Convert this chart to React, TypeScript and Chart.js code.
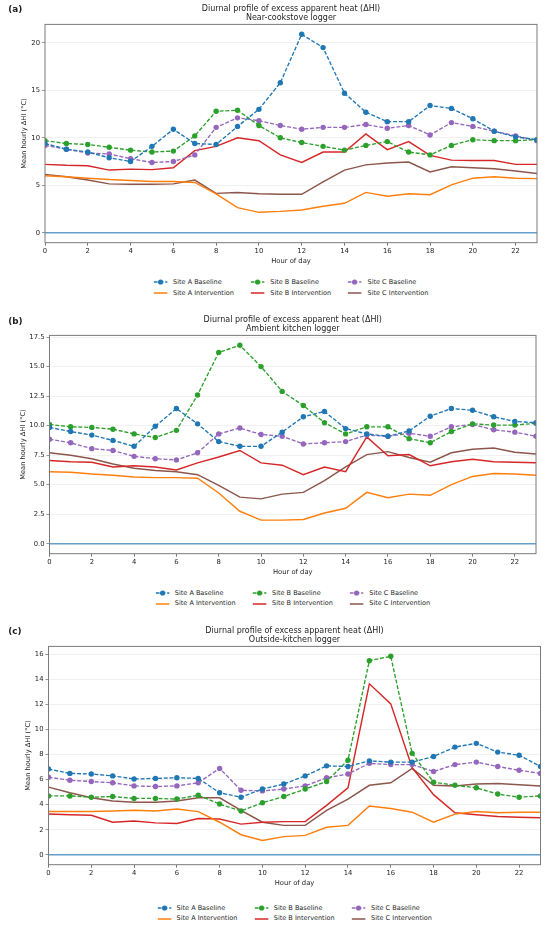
import { useEffect, useRef } from 'react'
import { Chart, registerables } from 'chart.js'
import type { ChartConfiguration, Plugin } from 'chart.js'

Chart.register(...registerables)

const HOURS = [0, 1, 2, 3, 4, 5, 6, 7, 8, 9, 10, 11, 12, 13, 14, 15, 16, 17, 18, 19, 20, 21, 22, 23]

const SERIES_LABELS = [
  'Site A Baseline',
  'Site B Baseline',
  'Site C Baseline',
  'Site A Intervention',
  'Site B Intervention',
  'Site C Intervention'
]

const TITLE = 'Diurnal profile of excess apparent heat (ΔHI)'
const Y_TITLE = 'Mean hourly ΔHI (°C)'
const X_TITLE = 'Hour of day'
const ZERO_LEVEL = 0

// (a) near-cookstove logger
const cookstoveABase = [9.4, 8.8, 8.5, 7.9, 7.5, 9.1, 10.9, 9.4, 9.3, 11.2, 13.0, 15.8, 20.9, 19.5, 14.7, 12.7, 11.7, 11.7, 13.4, 13.1, 12.0, 10.7, 10.1, 9.8]
const cookstoveBBase = [9.7, 9.4, 9.3, 9.0, 8.7, 8.5, 8.6, 10.2, 12.8, 12.9, 11.3, 10.0, 9.5, 9.1, 8.7, 9.2, 9.6, 8.5, 8.2, 9.2, 9.8, 9.7, 9.7, 9.8]
const cookstoveCBase = [9.2, 8.8, 8.4, 8.3, 7.8, 7.4, 7.5, 8.2, 11.1, 12.1, 11.8, 11.3, 10.9, 11.1, 11.1, 11.4, 11.0, 11.3, 10.3, 11.6, 11.2, 10.7, 10.2, 9.7]
const cookstoveAInt = [6.0, 5.9, 5.75, 5.6, 5.5, 5.4, 5.4, 5.3, 4.1, 2.65, 2.15, 2.25, 2.4, 2.8, 3.1, 4.25, 3.85, 4.1, 4.0, 5.05, 5.75, 5.9, 5.75, 5.7]
const cookstoveBInt = [7.2, 7.1, 7.05, 6.6, 6.7, 6.65, 6.85, 8.65, 9.1, 10.0, 9.7, 8.2, 7.4, 8.5, 8.5, 10.4, 8.75, 9.6, 8.15, 7.65, 7.6, 7.6, 7.2, 7.2]
const cookstoveCInt = [6.15, 5.9, 5.55, 5.15, 5.1, 5.1, 5.15, 5.55, 4.15, 4.25, 4.1, 4.05, 4.05, 5.35, 6.6, 7.15, 7.35, 7.45, 6.4, 6.95, 6.85, 6.75, 6.5, 6.25]

// (b) ambient kitchen logger
const ambientABase = [9.85, 9.5, 9.2, 8.75, 8.25, 9.95, 11.45, 10.15, 8.65, 8.25, 8.25, 9.45, 10.75, 11.2, 9.75, 9.3, 9.1, 9.55, 10.8, 11.45, 11.3, 10.75, 10.35, 10.25]
const ambientBBase = [10.1, 9.9, 9.85, 9.7, 9.3, 9.0, 9.6, 12.6, 16.2, 16.8, 15.0, 12.9, 11.7, 10.25, 9.3, 9.9, 9.9, 8.9, 8.55, 9.5, 10.15, 10.05, 10.05, 10.2]
const ambientCBase = [8.85, 8.55, 8.05, 7.9, 7.4, 7.2, 7.1, 7.7, 9.3, 9.8, 9.25, 9.1, 8.45, 8.55, 8.65, 9.2, 9.1, 9.35, 9.1, 9.9, 10.1, 9.65, 9.45, 9.1]
const ambientAInt = [6.1, 6.05, 5.9, 5.8, 5.65, 5.6, 5.6, 5.55, 4.3, 2.75, 2.0, 2.0, 2.05, 2.6, 3.0, 4.35, 3.9, 4.2, 4.1, 5.0, 5.7, 5.95, 5.9, 5.8]
const ambientBInt = [7.05, 6.95, 6.9, 6.5, 6.6, 6.5, 6.25, 6.85, 7.35, 7.9, 6.85, 6.65, 5.85, 6.5, 6.1, 9.05, 7.45, 7.55, 6.6, 6.95, 7.15, 6.95, 6.9, 6.85]
const ambientCInt = [7.7, 7.5, 7.2, 6.75, 6.4, 6.2, 6.1, 5.85, 4.95, 3.95, 3.8, 4.2, 4.35, 5.35, 6.5, 7.55, 7.8, 7.3, 6.9, 7.7, 8.0, 8.1, 7.75, 7.6]

// (c) outside-kitchen logger
const outsideABase = [6.85, 6.5, 6.45, 6.3, 6.05, 6.1, 6.15, 6.1, 4.95, 4.6, 5.25, 5.65, 6.3, 7.1, 7.05, 7.5, 7.4, 7.4, 7.85, 8.6, 8.9, 8.2, 7.95, 7.05]
const outsideBBase = [4.7, 4.7, 4.6, 4.65, 4.5, 4.5, 4.45, 4.75, 4.05, 3.5, 4.15, 4.65, 5.25, 5.85, 7.55, 15.5, 15.85, 8.1, 5.8, 5.55, 5.35, 4.85, 4.6, 4.7]
const outsideCBase = [6.2, 5.95, 5.85, 5.75, 5.5, 5.45, 5.5, 5.75, 6.9, 5.15, 5.1, 5.25, 5.5, 6.15, 6.45, 7.3, 7.2, 7.2, 6.65, 7.2, 7.4, 7.05, 6.75, 6.5]
const outsideAInt = [3.45, 3.45, 3.45, 3.5, 3.55, 3.5, 3.65, 3.45, 2.6, 1.6, 1.15, 1.45, 1.55, 2.2, 2.35, 3.9, 3.7, 3.4, 2.6, 3.25, 3.45, 3.35, 3.4, 3.4]
const outsideBInt = [3.25, 3.2, 3.15, 2.6, 2.7, 2.55, 2.5, 2.9, 2.85, 2.45, 2.6, 2.65, 2.65, 3.95, 5.35, 13.65, 12.05, 6.95, 4.8, 3.35, 3.2, 3.05, 3.0, 2.95]
const outsideCInt = [5.4, 4.95, 4.55, 4.3, 4.2, 4.2, 4.3, 4.55, 4.55, 3.55, 2.6, 2.35, 2.35, 3.55, 4.45, 5.55, 5.75, 6.9, 5.55, 5.5, 5.65, 5.7, 5.6, 5.5]

// matplotlib tab10, same order as SERIES_LABELS
const COLORS = ['#1f77b4', '#2ca02c', '#9467bd', '#ff7f0e', '#d62728', '#8c564b']
const ZERO_COLOR = '#62a0ca'
const FRAME_COLOR = '#7a7a7a'
const TEXT = '#1e1e1e'
const FONT = "'DejaVu Sans', sans-serif"
const DASH = [4, 1.8]

interface PanelSpec {
  tag: string
  subtitle: string
  series: number[][]
  yMin: number
  yMax: number
  yStep: number
  yDecimals: number
  top: number
  height: number
  plotLeft: number
  plotRight: number
  yTitlePad: number
  tagTop: number
  legendTop: number
}

const PANELS: PanelSpec[] = [
  {
    tag: '(a)', subtitle: 'Near-cookstove logger',
    series: [cookstoveABase, cookstoveBBase, cookstoveCBase, cookstoveAInt, cookstoveBInt, cookstoveCInt],
    yMin: -1.045, yMax: 21.945, yStep: 5, yDecimals: 0,
    top: 0, height: 310.5, plotLeft: 45, plotRight: 537, yTitlePad: 20.4, tagTop: 4.3, legendTop: 277
  },
  {
    tag: '(b)', subtitle: 'Ambient kitchen logger',
    series: [ambientABase, ambientBBase, ambientCBase, ambientAInt, ambientBInt, ambientCInt],
    yMin: -0.84, yMax: 17.64, yStep: 2.5, yDecimals: 1,
    top: 310.5, height: 311.5, plotLeft: 49.5, plotRight: 536, yTitlePad: 19.4, tagTop: 5.5, legendTop: 277
  },
  {
    tag: '(c)', subtitle: 'Outside-kitchen logger',
    series: [outsideABase, outsideBBase, outsideCBase, outsideAInt, outsideBInt, outsideCInt],
    yMin: -0.79, yMax: 16.64, yStep: 2, yDecimals: 0,
    top: 622, height: 305, plotLeft: 48.5, plotRight: 540.5, yTitlePad: 24.4, tagTop: 4, legendTop: 280.5
  }
]

// axes box on all four sides plus the zero reference line
const axesDecor: Plugin = {
  id: 'axesDecor',
  beforeDatasetsDraw(chart) {
    const { ctx, chartArea } = chart
    const y0 = chart.scales.y.getPixelForValue(ZERO_LEVEL)
    ctx.save()
    ctx.strokeStyle = ZERO_COLOR
    ctx.lineWidth = 1.4
    ctx.beginPath()
    ctx.moveTo(chartArea.left, y0)
    ctx.lineTo(chartArea.right, y0)
    ctx.stroke()
    ctx.restore()
  },
  afterDraw(chart) {
    const { ctx, chartArea } = chart
    ctx.save()
    ctx.strokeStyle = FRAME_COLOR
    ctx.lineWidth = 1
    ctx.strokeRect(chartArea.left, chartArea.top, chartArea.right - chartArea.left, chartArea.bottom - chartArea.top)
    ctx.restore()
  }
}

function LegendMark({ color, baseline }: { color: string; baseline: boolean }) {
  return (
    <svg width={14} height={8} style={{ display: 'block', flex: 'none' }}>
      <line x1={0} y1={4} x2={14} y2={4} stroke={color} strokeWidth={1.4} strokeDasharray={baseline ? '4 1.8' : undefined} />
      {baseline && <circle cx={7} cy={4} r={2.6} fill={color} />}
    </svg>
  )
}

function Panel({ spec }: { spec: PanelSpec }) {
  const canvasRef = useRef<HTMLCanvasElement>(null)
  const chartRef = useRef<Chart | null>(null)
  const canvasHeight = 266

  useEffect(() => {
    const canvas = canvasRef.current
    if (!canvas) return
    chartRef.current?.destroy()

    const datasets = spec.series.map((values, i) => {
      const baseline = i < 3
      return {
        label: SERIES_LABELS[i],
        data: HOURS.map((h, k) => ({ x: h, y: values[k] })),
        borderColor: COLORS[i],
        backgroundColor: COLORS[i],
        borderWidth: baseline ? 1.35 : 1.45,
        borderDash: baseline ? DASH : [],
        pointRadius: baseline ? 2.7 : 0,
        pointBorderWidth: 0,
        pointBackgroundColor: COLORS[i],
        tension: 0,
        fill: false
      }
    })

    const config: ChartConfiguration<'line'> = {
      type: 'line',
      data: { datasets },
      options: {
        responsive: true,
        maintainAspectRatio: false,
        animation: false,
        layout: { padding: { left: 0, right: 550 - spec.plotRight, top: 0, bottom: 0 } },
        plugins: {
          legend: { display: false },
          tooltip: { enabled: false },
          title: {
            display: true,
            text: [TITLE, spec.subtitle],
            fullSize: false,
            color: TEXT,
            font: { family: FONT, size: 8, weight: 'normal', lineHeight: 1.125 },
            padding: { top: 4.5, bottom: 1.9 }
          }
        },
        scales: {
          x: {
            type: 'linear',
            min: 0,
            max: 23,
            border: { display: false },
            grid: { drawOnChartArea: false, drawTicks: true, tickLength: 3, tickColor: FRAME_COLOR },
            ticks: { stepSize: 2, includeBounds: false, color: TEXT, padding: 1, maxRotation: 0, font: { family: FONT, size: 6.8, lineHeight: 1.2 } },
            title: { display: true, text: X_TITLE, color: TEXT, padding: { top: 1, bottom: 1 }, font: { family: FONT, size: 6.8, lineHeight: 1.2 } }
          },
          y: {
            min: spec.yMin,
            max: spec.yMax,
            border: { display: false },
            grid: { color: 'rgba(0,0,0,0.07)', lineWidth: 0.8, tickLength: 3, tickColor: FRAME_COLOR },
            ticks: {
              stepSize: spec.yStep,
              includeBounds: false,
              color: TEXT,
              padding: 2,
              font: { family: FONT, size: 6.8, lineHeight: 1.2 },
              callback: (v) => Number(v).toFixed(spec.yDecimals)
            },
            title: { display: true, text: Y_TITLE, color: TEXT, padding: { top: spec.yTitlePad, bottom: 0 }, font: { family: FONT, size: 6.7, lineHeight: 1.2 } },
            afterFit: (scale) => { scale.width = spec.plotLeft }
          }
        }
      },
      plugins: [axesDecor]
    }

    chartRef.current = new Chart(canvas, config)
    return () => {
      chartRef.current?.destroy()
      chartRef.current = null
    }
  }, [spec])

  const legendCenter = (spec.plotLeft + spec.plotRight) / 2
  const order = [0, 3, 1, 4, 2, 5]

  return (
    <div style={{ position: 'absolute', left: 0, top: spec.top, width: 550, height: spec.height }}>
      <div style={{ position: 'absolute', left: 0, top: 0, width: 550, height: canvasHeight }}>
        <canvas ref={canvasRef} />
      </div>
      <div style={{ position: 'absolute', left: 8.3, top: spec.tagTop, font: `bold 8.8px ${FONT}`, lineHeight: '10px', color: TEXT }}>
        {spec.tag}
      </div>
      <div
        style={{
          position: 'absolute',
          top: spec.legendTop,
          left: legendCenter,
          transform: 'translateX(-50%)',
          display: 'grid',
          gridTemplateRows: 'repeat(2, 10.8px)',
          gridAutoFlow: 'column',
          columnGap: 17,
          font: `6.5px ${FONT}`,
          color: TEXT,
          whiteSpace: 'nowrap'
        }}
      >
        {order.map((i) => (
          <div key={i} style={{ display: 'flex', alignItems: 'center', gap: 5.5, lineHeight: '10.8px' }}>
            <LegendMark color={COLORS[i]} baseline={i < 3} />
            <span>{SERIES_LABELS[i]}</span>
          </div>
        ))}
      </div>
    </div>
  )
}

export default function App() {
  return (
    <div style={{ position: 'absolute', left: 0, top: 0, width: 550, height: 927, background: '#fff', overflow: 'hidden' }}>
      {PANELS.map((p) => (
        <Panel key={p.tag} spec={p} />
      ))}
    </div>
  )
}
